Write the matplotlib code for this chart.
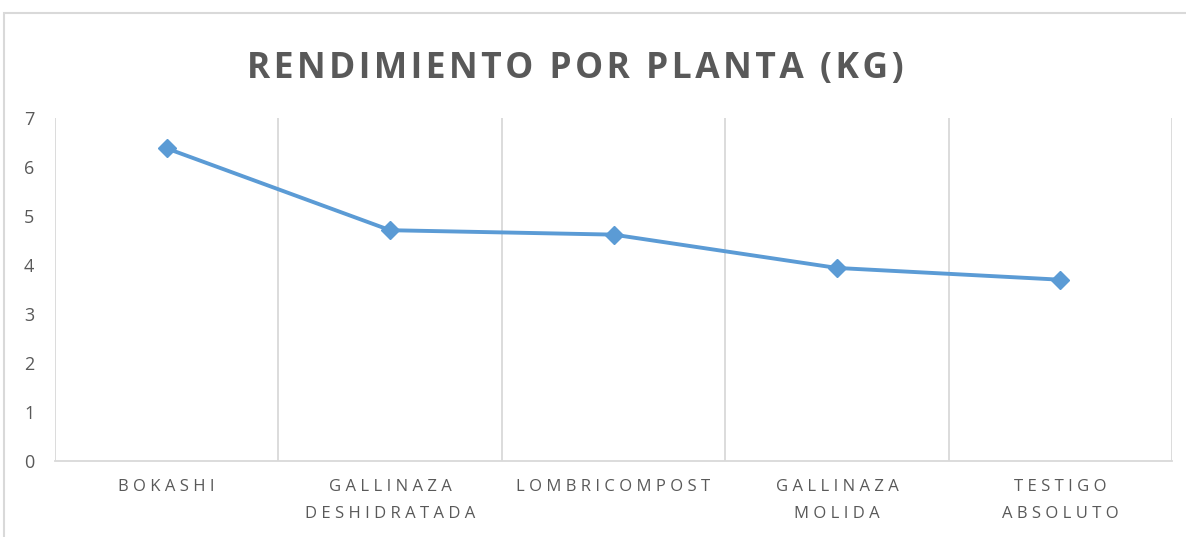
import matplotlib.pyplot as plt
from matplotlib.patches import Rectangle

categories = ["BOKASHI", "GALLINAZA\nDESHIDRATADA", "LOMBRICOMPOST",
              "GALLINAZA\nMOLIDA", "TESTIGO\nABSOLUTO"]
rendimiento = [6.38, 4.71, 4.62, 3.94, 3.70]
y_ticks = [0, 1, 2, 3, 4, 5, 6, 7]
title = "RENDIMIENTO POR PLANTA (KG)"

plt.rcParams["font.family"] = ["Open Sans", "DejaVu Sans"]


def spaced(s, sep):
    # imitate the wide letter spacing of the original labels
    return "\n".join(sep.join(line) for line in s.split("\n"))


W, H = 1186, 537
fig = plt.figure(figsize=(W / 100, H / 100), dpi=100)

# chart frame (light gray border, cut at right/bottom as in the screenshot)
fig.add_artist(Rectangle((4 / W, -0.2), 1.2, 1.2 - 13 / H,
                         transform=fig.transFigure, fill=False,
                         edgecolor="#D9D9D9", lw=1.5))

ax = fig.add_axes([55 / W, (H - 461) / H, (1172 - 55) / W, (461 - 118) / H])

x = list(range(len(categories)))
ax.plot(x, rendimiento, color="#5B9BD5", lw=2.8, marker="D", markersize=9.5,
        solid_capstyle="round", zorder=3)

ax.set_xlim(-0.5, len(categories) - 0.5)
ax.set_ylim(0, 7)
ax.set_yticks(y_ticks)
ax.set_xticks(x)
ax.set_xticklabels([spaced(c, "\u2009\u200a") for c in categories], fontsize=12,
                   color="#595959", linespacing=1.95)
ax.tick_params(axis="y", labelsize=13, labelcolor="#595959", length=0, pad=15)
ax.tick_params(axis="x", length=0, pad=13)

# vertical gridlines between categories
ax.set_xticks([i - 0.5 for i in range(len(categories) + 1)], minor=True)
ax.tick_params(axis="x", which="minor", length=0)
ax.grid(axis="x", which="minor", color="#D9D9D9", lw=1.3)
ax.grid(axis="x", which="major", visible=False)

for side in ["top", "right", "left"]:
    ax.spines[side].set_visible(False)
ax.spines["bottom"].set_color("#D9D9D9")
ax.spines["bottom"].set_linewidth(1.3)

fig.text(575 / W, 1 - 69 / H, spaced(title, "\u200a"), ha="center",
         va="center", fontsize=25.5, fontweight="bold", color="#595959")

fig.savefig("out.png", dpi=100)
